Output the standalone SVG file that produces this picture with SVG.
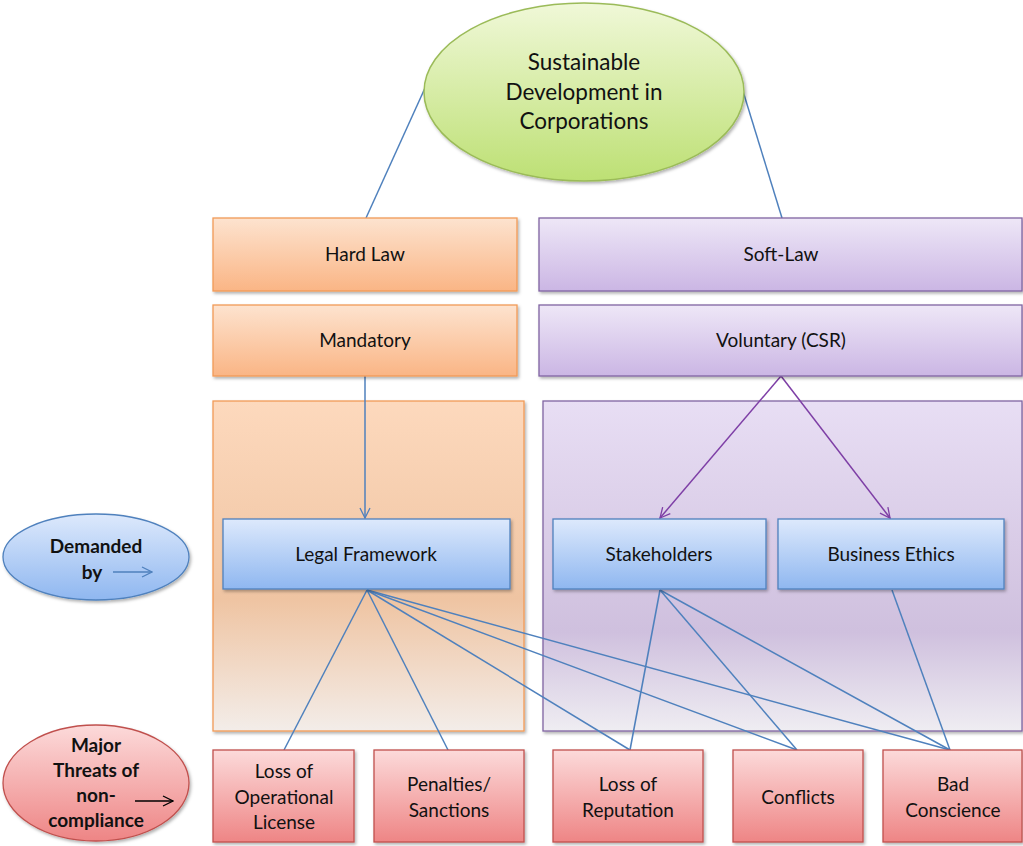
<svg xmlns="http://www.w3.org/2000/svg" width="1023" height="846" viewBox="0 0 1023 846">
<defs>
<linearGradient id="gOr" x1="0" y1="0" x2="0" y2="1"><stop offset="0" stop-color="#fde3cf"/><stop offset="1" stop-color="#fab585"/></linearGradient>
<linearGradient id="gPu" x1="0" y1="0" x2="0" y2="1"><stop offset="0" stop-color="#eee7f7"/><stop offset="1" stop-color="#cbb6e4"/></linearGradient>
<linearGradient id="gBl" x1="0" y1="0" x2="0" y2="1"><stop offset="0" stop-color="#dde9fc"/><stop offset="1" stop-color="#8fb7f0"/></linearGradient>
<linearGradient id="gRd" x1="0" y1="0" x2="0" y2="1"><stop offset="0" stop-color="#fcdada"/><stop offset="1" stop-color="#ee8585"/></linearGradient>
<linearGradient id="gGr" x1="0" y1="0" x2="0" y2="1"><stop offset="0" stop-color="#f0f8d8"/><stop offset="1" stop-color="#bde074"/></linearGradient>
<linearGradient id="gCo" x1="0" y1="0" x2="0" y2="1"><stop offset="0" stop-color="#fdd9bd"/><stop offset="0.6" stop-color="#efc4a2"/><stop offset="1" stop-color="#f3ede9"/></linearGradient>
<linearGradient id="gCp" x1="0" y1="0" x2="0" y2="1"><stop offset="0" stop-color="#e8def4"/><stop offset="0.7" stop-color="#cfc0de"/><stop offset="1" stop-color="#efedf2"/></linearGradient>
<filter id="sh" x="-10%" y="-10%" width="130%" height="130%"><feDropShadow dx="1.5" dy="2" stdDeviation="1.5" flood-color="#000" flood-opacity="0.3"/></filter>
<marker id="aB" viewBox="0 0 12 12" refX="11" refY="6" markerWidth="12" markerHeight="12" markerUnits="userSpaceOnUse" orient="auto"><path d="M1,1 L11,6 L1,11" fill="none" stroke="#4f81bd" stroke-width="1.3"/></marker>
<marker id="aP" viewBox="0 0 12 12" refX="11" refY="6" markerWidth="12" markerHeight="12" markerUnits="userSpaceOnUse" orient="auto"><path d="M1,1 L11,6 L1,11" fill="none" stroke="#7e3fa6" stroke-width="1.3"/></marker>
<marker id="aK" viewBox="0 0 12 12" refX="11" refY="6" markerWidth="12" markerHeight="12" markerUnits="userSpaceOnUse" orient="auto"><path d="M1,1 L11,6 L1,11" fill="none" stroke="#000" stroke-width="1.3"/></marker>
</defs>
<style>
text{font-family:Lato,"Open Sans","Liberation Sans",sans-serif;fill:#111;text-anchor:middle}
.t{font-size:19px}
.e{font-size:22.5px}
.b{font-size:19px;font-weight:bold}
.or{fill:url(#gOr);stroke:#f29a57;stroke-width:1.3;filter:url(#sh)}
.pu{fill:url(#gPu);stroke:#8064a2;stroke-width:1.3;filter:url(#sh)}
.bl{fill:url(#gBl);stroke:#4f81bd;stroke-width:1.3;filter:url(#sh)}
.rd{fill:url(#gRd);stroke:#c0504d;stroke-width:1.3;filter:url(#sh)}
.ln{stroke:#4f81bd;stroke-width:1.5;fill:none}
.lp{stroke:#7e3fa6;stroke-width:1.5;fill:none}
</style>
<g id="container-hard"><rect x="213" y="401" width="311" height="330" fill="url(#gCo)" stroke="#f29a57" stroke-width="1.3" filter="url(#sh)"/></g>
<g id="container-soft"><rect x="543" y="401" width="479" height="330" fill="url(#gCp)" stroke="#8064a2" stroke-width="1.3" filter="url(#sh)"/></g>
<g id="connectors">
<line class="ln" x1="425" y1="88" x2="366" y2="218"/>
<line class="ln" x1="742" y1="88" x2="782" y2="218"/>
<line class="ln" x1="365" y1="376" x2="365" y2="518" marker-end="url(#aB)"/>
<line class="lp" x1="781" y1="376" x2="660" y2="518" marker-end="url(#aP)"/>
<line class="lp" x1="781" y1="376" x2="890" y2="518" marker-end="url(#aP)"/>
<line class="ln" x1="367" y1="590" x2="284" y2="750"/>
<line class="ln" x1="367" y1="590" x2="448" y2="750"/>
<line class="ln" x1="367" y1="590" x2="630" y2="750"/>
<line class="ln" x1="367" y1="590" x2="797" y2="750"/>
<line class="ln" x1="367" y1="590" x2="950" y2="750"/>
<line class="ln" x1="660" y1="590" x2="630" y2="750"/>
<line class="ln" x1="660" y1="590" x2="797" y2="750"/>
<line class="ln" x1="660" y1="590" x2="950" y2="750"/>
<line class="ln" x1="892" y1="590" x2="950" y2="750"/>
</g>
<g id="sustainable"><ellipse cx="584" cy="92" rx="160" ry="89" fill="url(#gGr)" stroke="#9bbb59" stroke-width="1.5" filter="url(#sh)"/>
<text class="e" x="584" y="70">Sustainable</text><text class="e" x="584" y="100">Development in</text><text class="e" x="584" y="129">Corporations</text></g>
<g id="hardlaw"><rect class="or" x="213" y="218" width="304" height="73"/><text class="t" x="365" y="261">Hard Law</text></g>
<g id="mandatory"><rect class="or" x="213" y="305" width="304" height="71"/><text class="t" x="365" y="347">Mandatory</text></g>
<g id="softlaw"><rect class="pu" x="539" y="218" width="483" height="73"/><text class="t" x="781" y="261">Soft-Law</text></g>
<g id="voluntary"><rect class="pu" x="539" y="305" width="483" height="71"/><text class="t" x="781" y="347">Voluntary (CSR)</text></g>
<g id="legal"><rect class="bl" x="223" y="519" width="287" height="70"/><text class="t" x="366" y="561">Legal Framework</text></g>
<g id="stakeholders"><rect class="bl" x="553" y="519" width="213" height="70"/><text class="t" x="659" y="561">Stakeholders</text></g>
<g id="ethics"><rect class="bl" x="778" y="519" width="226" height="70"/><text class="t" x="891" y="561">Business Ethics</text></g>
<g id="demanded"><ellipse cx="96" cy="557" rx="93" ry="43" fill="url(#gBl)" stroke="#4f81bd" stroke-width="1.3" filter="url(#sh)"/>
<text class="b" x="96" y="553">Demanded</text><text class="b" x="92" y="579">by</text>
<line x1="113" y1="572" x2="152" y2="572" stroke="#4f81bd" stroke-width="1.3" marker-end="url(#aB)"/></g>
<g id="threats"><ellipse cx="96" cy="783" rx="93" ry="58" fill="url(#gRd)" stroke="#c0504d" stroke-width="1.3" filter="url(#sh)"/>
<text class="b" x="96" y="752">Major</text><text class="b" x="96" y="777">Threats of</text><text class="b" x="96" y="802">non-</text><text class="b" x="96" y="827">compliance</text>
<line x1="135" y1="801" x2="173" y2="801" stroke="#000" stroke-width="1.3" marker-end="url(#aK)"/></g>
<g id="loss-license"><rect class="rd" x="213" y="750" width="141" height="92"/><text class="t" x="284" y="778">Loss of</text><text class="t" x="284" y="804">Operational</text><text class="t" x="284" y="829">License</text></g>
<g id="penalties"><rect class="rd" x="374" y="750" width="150" height="92"/><text class="t" x="449" y="791">Penalties/</text><text class="t" x="449" y="817">Sanctions</text></g>
<g id="loss-reputation"><rect class="rd" x="553" y="750" width="150" height="92"/><text class="t" x="628" y="791">Loss of</text><text class="t" x="628" y="817">Reputation</text></g>
<g id="conflicts"><rect class="rd" x="733" y="750" width="130" height="92"/><text class="t" x="798" y="804">Conflicts</text></g>
<g id="bad-conscience"><rect class="rd" x="883" y="750" width="139" height="92"/><text class="t" x="953" y="791">Bad</text><text class="t" x="953" y="817">Conscience</text></g>
</svg>
